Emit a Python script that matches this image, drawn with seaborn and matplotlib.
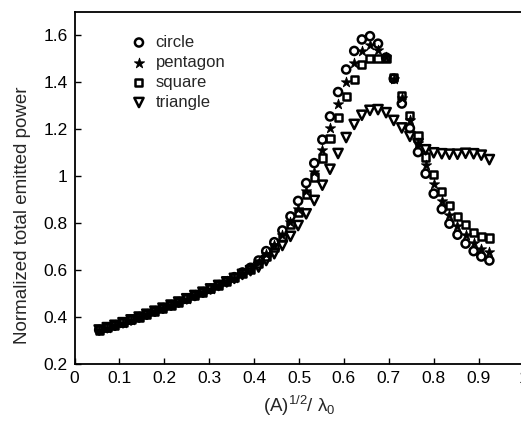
import numpy as np
import pandas as pd
import matplotlib
matplotlib.use('Agg')
import matplotlib.pyplot as plt
import seaborn as sns

# x positions, (A)^1/2 / lambda0
x = [0.055, 0.073, 0.090, 0.108, 0.126, 0.144, 0.161, 0.179, 0.197, 0.215,
     0.232, 0.250, 0.268, 0.286, 0.303, 0.321, 0.339, 0.356, 0.374, 0.392,
     0.410, 0.427, 0.445, 0.463, 0.481, 0.498, 0.516, 0.534, 0.552, 0.569,
     0.587, 0.605, 0.623, 0.640, 0.658, 0.676, 0.694, 0.711, 0.729, 0.747,
     0.765, 0.782, 0.800, 0.818, 0.835, 0.853, 0.871, 0.889, 0.906, 0.924]

circle = [0.345, 0.355, 0.365, 0.376, 0.388, 0.400, 0.412, 0.425, 0.438, 0.451,
          0.464, 0.478, 0.492, 0.506, 0.520, 0.536, 0.552, 0.570, 0.590, 0.610,
          0.641, 0.681, 0.719, 0.769, 0.829, 0.895, 0.971, 1.056, 1.156, 1.255,
          1.359, 1.455, 1.534, 1.583, 1.597, 1.565, 1.506, 1.416, 1.310, 1.205,
          1.103, 1.011, 0.926, 0.860, 0.798, 0.751, 0.713, 0.681, 0.658, 0.641]

pentagon = [0.345, 0.355, 0.365, 0.376, 0.388, 0.400, 0.412, 0.425, 0.438, 0.451,
            0.464, 0.478, 0.492, 0.506, 0.520, 0.536, 0.552, 0.568, 0.587, 0.605,
            0.635, 0.670, 0.705, 0.750, 0.805, 0.862, 0.937, 1.018, 1.113, 1.207,
            1.310, 1.400, 1.483, 1.534, 1.558, 1.540, 1.508, 1.416, 1.335, 1.240,
            1.143, 1.050, 0.967, 0.895, 0.836, 0.790, 0.748, 0.715, 0.691, 0.677]

square = [0.345, 0.355, 0.365, 0.376, 0.388, 0.400, 0.412, 0.425, 0.438, 0.451,
          0.464, 0.478, 0.492, 0.506, 0.520, 0.536, 0.552, 0.567, 0.585, 0.603,
          0.630, 0.660, 0.698, 0.741, 0.795, 0.847, 0.922, 0.997, 1.078, 1.160,
          1.252, 1.338, 1.412, 1.476, 1.501, 1.501, 1.500, 1.420, 1.345, 1.258,
          1.174, 1.082, 1.008, 0.935, 0.876, 0.829, 0.795, 0.762, 0.744, 0.737]

triangle = [0.345, 0.355, 0.365, 0.376, 0.388, 0.400, 0.412, 0.425, 0.438, 0.451,
            0.464, 0.478, 0.492, 0.506, 0.520, 0.535, 0.550, 0.565, 0.582, 0.598,
            0.613, 0.641, 0.670, 0.705, 0.744, 0.790, 0.840, 0.897, 0.962, 1.030,
            1.097, 1.165, 1.221, 1.260, 1.281, 1.284, 1.271, 1.238, 1.206, 1.170,
            1.139, 1.113, 1.100, 1.096, 1.094, 1.094, 1.098, 1.096, 1.090, 1.071]

names = ['circle', 'pentagon', 'square', 'triangle']
series = [circle, pentagon, square, triangle]

df = pd.concat([pd.DataFrame({'x': x, 'y': s, 'shape': n}) for n, s in zip(names, series)])

sns.set_style('ticks')
plt.rcParams['font.family'] = ['Liberation Sans', 'DejaVu Sans']
plt.rcParams['mathtext.fontset'] = 'custom'
plt.rcParams['mathtext.rm'] = 'Liberation Sans'
plt.rcParams['mathtext.it'] = 'Liberation Sans:italic'

fig = plt.figure(figsize=(5.21, 4.26), dpi=100)
ax = fig.add_axes([74.5/521, 62/426, 449/521, 352/426])

# marker, size, filled
styles = {'circle': ('o', 34, False),
          'pentagon': ('*', 60, True),
          'square': ('s', 26, False),
          'triangle': ('v', 44, False)}

for n in names:
    m, sz, filled = styles[n]
    d = df[df['shape'] == n]
    if filled:
        sns.scatterplot(data=d, x='x', y='y', marker=m, s=sz, color='black',
                        edgecolor='black', linewidth=0.6, label=n, ax=ax, zorder=3)
    else:
        sns.scatterplot(data=d, x='x', y='y', marker=m, s=sz, facecolor='none',
                        edgecolor='black', linewidth=1.8, label=n, ax=ax, zorder=3)

ax.set_xlim(0, 1)
ax.set_ylim(0.2, 1.7)
ax.set_xticks(np.arange(0, 1.01, 0.1))
ax.set_xticklabels(['0', '0.1', '0.2', '0.3', '0.4', '0.5', '0.6', '0.7', '0.8', '0.9', '1'])
ax.set_yticks(np.arange(0.2, 1.61, 0.2))
ax.set_yticklabels(['0.2', '0.4', '0.6', '0.8', '1', '1.2', '1.4', '1.6'])
ax.tick_params(direction='in', length=4, width=1, labelsize=12.5, pad=5, colors='black')
for sp in ax.spines.values():
    sp.set_linewidth(1.3)
    sp.set_color('black')

ax.set_xlabel('(A)$^{1/2}$/ λ$_0$', fontsize=13.5, labelpad=6)
ax.set_ylabel('Normalized total emitted power', fontsize=13.5)
ax.yaxis.set_label_coords(-0.097, 0.423)

ax.legend(loc='upper left', bbox_to_anchor=(0.125, 0.935), frameon=False,
          fontsize=12, handlelength=1, handletextpad=0.5, labelspacing=0.3,
          borderpad=0, borderaxespad=0)

fig.savefig('out.png', dpi=100)
